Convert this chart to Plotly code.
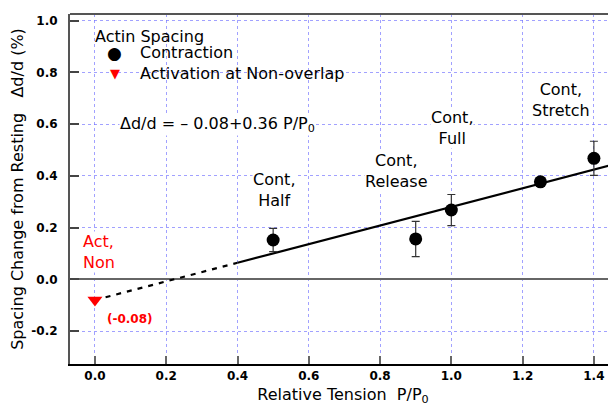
import plotly.graph_objects as go

# Data
tension = [0.5, 0.9, 1.0, 1.25, 1.4]
spacing = [0.152, 0.156, 0.268, 0.377, 0.468]
spacing_err = [0.045, 0.068, 0.06, 0.01, 0.066]
cond_labels = ["Cont,<br>Half", "Cont,<br>Release", "Cont,<br>Full", "Cont,<br>Stretch"]
cond_label_x = [0.502, 0.845, 1.002, 1.307]
cond_label_y = [0.345, 0.419, 0.585, 0.693]
act_tension = [0.0]
act_spacing = [-0.08]
fit_intercept = -0.08
fit_slope = 0.36
fit_dashed_x = [0.0, 0.4]
fit_solid_x = [0.4, 1.47]
x_ticks = [0.0, 0.2, 0.4, 0.6, 0.8, 1.0, 1.2, 1.4]
y_ticks = [-0.2, 0.0, 0.2, 0.4, 0.6, 0.8, 1.0]
legend_title = "Actin Spacing"
series_names = ["Contraction", "Activation at Non-overlap"]

FONT = "DejaVu Sans"
GRID = "rgba(110,110,255,0.65)"

fig = go.Figure()

fig.add_trace(go.Scatter(
    x=fit_dashed_x, y=[fit_intercept + fit_slope * v for v in fit_dashed_x],
    mode="lines", line=dict(color="black", width=2.2, dash="5px,6px"),
    showlegend=False, hoverinfo="skip"))
fig.add_trace(go.Scatter(
    x=fit_solid_x, y=[fit_intercept + fit_slope * v for v in fit_solid_x],
    mode="lines", line=dict(color="black", width=2.2),
    showlegend=False, hoverinfo="skip"))

fig.add_trace(go.Scatter(
    x=tension, y=spacing, mode="markers", name=series_names[0], showlegend=False,
    marker=dict(symbol="circle", size=13, color="black"),
    error_y=dict(type="data", array=spacing_err, color="#333333", thickness=1.2, width=4)))
fig.add_trace(go.Scatter(
    x=act_tension, y=act_spacing, mode="markers", name=series_names[1], showlegend=False,
    marker=dict(symbol="triangle-down", size=13, color="#ff0000")))

for lx, ly, t in zip(cond_label_x, cond_label_y, cond_labels):
    fig.add_annotation(x=lx, y=ly, text=t, showarrow=False, align="center",
                       font=dict(family=FONT, size=16, color="black"),
                       bgcolor="white", borderpad=0)

fig.add_annotation(x=-0.036, y=0.106, text="Act,<br>Non", showarrow=False, align="left",
                   xanchor="left", font=dict(family=FONT, size=16, color="#ff0000"),
                   bgcolor="white", borderpad=0)
fig.add_annotation(x=0.028, y=-0.153, text="(-0.08)", showarrow=False, xanchor="left",
                   font=dict(family=FONT, size=12, color="#ff0000", weight="bold"))
fig.add_annotation(x=0.068, y=0.6, xanchor="left",
                   text="Δd/d = – 0.08+0.36 P/P<sub>0</sub>", showarrow=False,
                   font=dict(family=FONT, size=16, color="black"),
                   bgcolor="white", borderpad=0)

# Legend block (white box over the grid, text in paper coordinates)
fig.add_shape(type="rect", xref="paper", yref="paper", x0=0.029, x1=0.542, y0=0.803, y1=0.966,
              fillcolor="white", line=dict(width=0), layer="between")
fig.add_annotation(xref="paper", yref="paper", x=0.042, y=0.935, xanchor="left", yanchor="middle",
                   text=legend_title, showarrow=False,
                   font=dict(family=FONT, size=16, color="black"))
fig.add_annotation(xref="paper", yref="paper", x=0.0824, y=0.8886, xanchor="center", yanchor="middle",
                   text="●", showarrow=False,
                   font=dict(family=FONT, size=17, color="black"))
fig.add_annotation(xref="paper", yref="paper", x=0.1245, y=0.8886, xanchor="left", yanchor="middle",
                   text=series_names[0], showarrow=False,
                   font=dict(family=FONT, size=16, color="black"))
fig.add_annotation(xref="paper", yref="paper", x=0.0824, y=0.829, xanchor="center", yanchor="middle",
                   text="▼", showarrow=False,
                   font=dict(family=FONT, size=13, color="#ff0000"))
fig.add_annotation(xref="paper", yref="paper", x=0.1245, y=0.8314, xanchor="left", yanchor="middle",
                   text=series_names[1], showarrow=False,
                   font=dict(family=FONT, size=16, color="black"))

fig.add_shape(type="line", xref="paper", yref="paper", x0=0, x1=1, y0=1, y1=1,
              line=dict(color="#555555", width=2))

# page body has an 8px margin; figure is offset by (8, 8) in the window
fig.update_layout(
    width=608, height=398,
    margin=dict(l=62, r=0, t=6, b=42, autoexpand=False),
    plot_bgcolor="white", paper_bgcolor="white",
    font=dict(family=FONT, size=16, color="black"),
    showlegend=False,
    xaxis=dict(range=[-0.07, 1.462], tickvals=x_ticks, ticktext=[f"{v:.1f}" for v in x_ticks],
               ticks="inside", ticklen=8, tickcolor="#666666", tickwidth=2,
               showline=True, linecolor="black", linewidth=2, mirror=False,
               showgrid=True, gridcolor=GRID, griddash="dot", gridwidth=1,
               zeroline=False, automargin=False,
               tickfont=dict(family=FONT, size=12, weight="bold"),
               title=dict(text="Relative Tension  P/P<sub>0</sub>", standoff=8,
                          font=dict(family=FONT, size=16))),
    yaxis=dict(range=[-0.3275, 1.026], tickvals=y_ticks, ticktext=[f"{v:.1f}" for v in y_ticks],
               ticks="inside", ticklen=9, tickcolor="#444444", tickwidth=2,
               showline=True, linecolor="#555555", linewidth=2, mirror=False,
               showgrid=True, gridcolor=GRID, griddash="dot", gridwidth=1,
               zeroline=True, zerolinecolor="#666666", zerolinewidth=2,
               ticklabelstandoff=8, automargin=False,
               tickfont=dict(family=FONT, size=12, weight="bold"),
               title=dict(text="Spacing Change from Resting   Δd/d (%)", standoff=10,
                          font=dict(family=FONT, size=16))),
)

fig.write_html("out.html")
